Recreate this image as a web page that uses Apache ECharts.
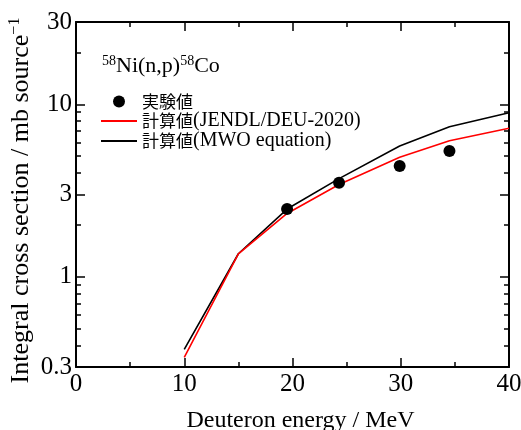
<!DOCTYPE html>
<html>
<head>
<meta charset="utf-8">
<script src="https://cdn.jsdelivr.net/npm/echarts@6/dist/echarts.min.js"></script>
<style>
html,body{margin:0;padding:0;background:#fff;}
#chart{width:521px;height:430px;}
</style>
</head>
<body>
<div id="chart"></div>
<script>
// ---- data ----
const expEnergy = [19.5, 24.3, 29.9, 34.5];
const expValue = [2.47, 3.51, 4.39, 5.36];
const calcEnergy = [10, 15, 19.5, 24.3, 29.9, 34.5, 40];
const jendlValue = [0.341, 1.36, 2.33, 3.43, 4.93, 6.15, 7.26];
const mwoValue = [0.38, 1.36, 2.47, 3.71, 5.73, 7.41, 8.94];
const yMajorTicks = [0.3, 1, 3, 10, 30];
const yMinorTicks = [0.4, 0.5, 0.6, 0.7, 0.8, 0.9, 2, 4, 5, 6, 7, 8, 9, 20];
const seriesNames = ['実験値', '計算値(JENDL/DEU-2020)', '計算値(MWO equation)'];

const FONT = '"Liberation Serif", "Times New Roman", "Noto Sans CJK JP", serif';
const CJK = '"Noto Sans CJK JP", sans-serif';

function pairs(xs, ys) { return xs.map((x, i) => [x, ys[i]]); }

const chart = echarts.init(document.getElementById('chart'));

const GRID = { left: 76, top: 22, right: 12, bottom: 63, outerBoundsMode: 'none', containLabel: false };
const TICK_LS = { color: '#000', width: 1.5 };
const LINE_LS = { color: '#000', width: 2 };

function hiddenX(gi) { return { gridIndex: gi, type: 'value', min: 0, max: 40, show: false }; }

function logY(gi, pos, ticks, len, showLine, showLabel) {
  return {
    gridIndex: gi, type: 'log', min: 0.3, max: 30, position: pos,
    axisLine: { show: showLine, lineStyle: LINE_LS },
    axisTick: { show: true, inside: true, length: len, customValues: ticks, lineStyle: TICK_LS },
    axisLabel: showLabel ? {
      show: true, customValues: yMajorTicks, margin: 4,
      fontSize: 25, fontFamily: FONT, color: '#000',
      formatter: v => String(+(+v).toPrecision(3))
    } : { show: false },
    splitLine: { show: false }
  };
}

function visX(gi, pos, showLabel) {
  return {
    gridIndex: gi, type: 'value', min: 0, max: 40, interval: 10, position: pos,
    axisLine: { show: true, onZero: false, lineStyle: LINE_LS },
    axisTick: { show: true, inside: true, length: 9, lineStyle: TICK_LS },
    minorTick: { show: true, splitNumber: 2, length: 5, lineStyle: TICK_LS },
    axisLabel: showLabel ? { show: true, margin: 5, fontSize: 25, fontFamily: FONT, color: '#000' } : { show: false },
    splitLine: { show: false }
  };
}

const yLeftMajor = logY(1, 'left', yMajorTicks, 9, true, true);
yLeftMajor.name = 'Integral cross section / mb source{s|−1}';
yLeftMajor.nameLocation = 'middle';
yLeftMajor.nameGap = 40;
yLeftMajor.nameMoveOverlap = false;
yLeftMajor.nameTextStyle = {
  fontSize: 26, fontFamily: FONT, color: '#000', padding: [0, 12, 0, 0],
  rich: { s: { fontSize: 16, fontFamily: FONT, color: '#000', padding: [0, 0, 13, 0] } }
};

const xBottom = visX(3, 'bottom', true);
xBottom.name = 'Deuteron energy / MeV';
xBottom.nameLocation = 'middle';
xBottom.nameGap = 42;
xBottom.nameTextStyle = { fontSize: 24, fontFamily: FONT, color: '#000', padding: [0, 0, 0, 16] };

chart.setOption({
  animation: false,
  backgroundColor: '#fff',
  title: {
    text: '{s|58}Ni(n,p){s|58}Co',
    left: 102, top: 54, padding: 0,
    textStyle: {
      fontSize: 22, fontFamily: FONT, color: '#000', fontWeight: 'normal',
      rich: { s: { fontSize: 14, fontFamily: FONT, color: '#000', padding: [0, 0, 10, 0] } }
    }
  },
  legend: {
    data: [
      { name: seriesNames[0] },
      { name: seriesNames[1], itemStyle: { opacity: 0 } },
      { name: seriesNames[2], itemStyle: { opacity: 0 } }
    ],
    orient: 'vertical', left: 100, top: 92, padding: 0,
    itemWidth: 36, itemHeight: 12, itemGap: 0,
    formatter: name => {
      const i = name.indexOf('(');
      return i < 0 ? '{c|' + name + '}' : '{c|' + name.slice(0, i) + '}{l|' + name.slice(i) + '}';
    },
    textStyle: {
      fontSize: 19, lineHeight: 19, fontFamily: FONT, color: '#000',
      rich: {
        c: { fontSize: 17, lineHeight: 19, fontFamily: CJK, color: '#000' },
        l: { fontSize: 20, lineHeight: 19, fontFamily: FONT, color: '#000' }
      }
    }
  },
  grid: [GRID, GRID, GRID, GRID],
  xAxis: [hiddenX(0), hiddenX(1), hiddenX(2), xBottom, visX(3, 'top', false)],
  yAxis: [
    { gridIndex: 0, type: 'log', min: 0.3, max: 30, show: false },
    yLeftMajor,
    logY(1, 'right', yMajorTicks, 9, true, false),
    logY(2, 'left', yMinorTicks, 5, false, false),
    logY(2, 'right', yMinorTicks, 5, false, false),
    { gridIndex: 3, type: 'value', show: false }
  ],
  series: [
    {
      name: seriesNames[0], type: 'scatter', xAxisIndex: 0, yAxisIndex: 0,
      symbol: 'circle', symbolSize: 12,
      itemStyle: { color: '#000', opacity: 1 },
      data: pairs(expEnergy, expValue), z: 5
    },
    {
      name: seriesNames[1], type: 'line', xAxisIndex: 0, yAxisIndex: 0,
      symbol: 'none', lineStyle: { color: '#ff0000', width: 1.6 },
      itemStyle: { color: '#ff0000' },
      data: pairs(calcEnergy, jendlValue), z: 3
    },
    {
      name: seriesNames[2], type: 'line', xAxisIndex: 0, yAxisIndex: 0,
      symbol: 'none', lineStyle: { color: '#000', width: 1.6 },
      itemStyle: { color: '#000' },
      data: pairs(calcEnergy, mwoValue), z: 2
    }
  ]
});
</script>
</body>
</html>
